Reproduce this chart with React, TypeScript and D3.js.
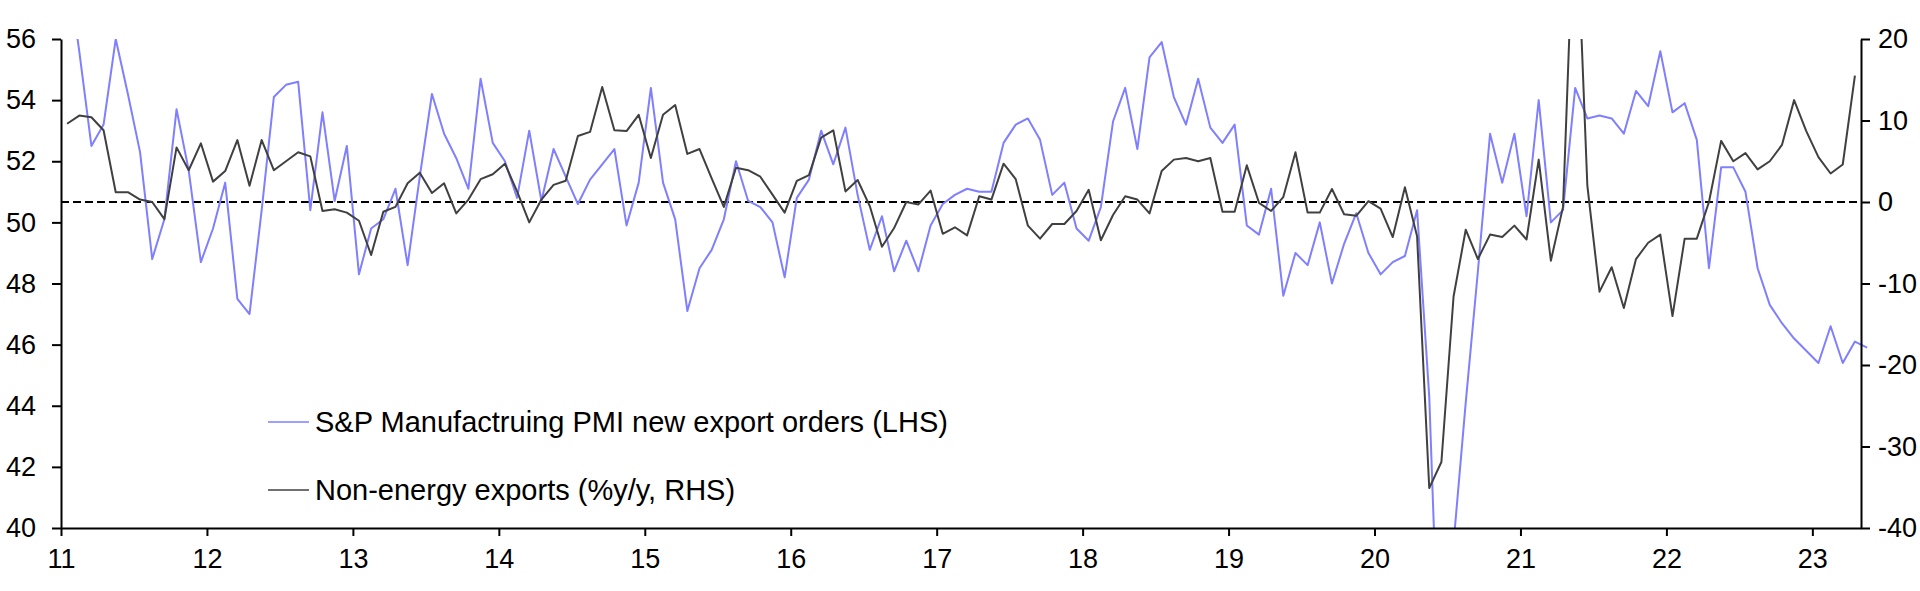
import React, { useEffect, useRef } from 'react';
import * as d3 from 'd3';

// monthly, from Jan 2011
const START_YEAR = 2011;

const pmiExportOrders = [
  58.5, 55.6, 52.5, 53.2, 56.0, 54.2, 52.3, 48.8, 50.1, 53.7, 51.7, 48.7,
  49.8, 51.3, 47.5, 47.0, 50.4, 54.1, 54.5, 54.6, 50.4, 53.6, 50.7, 52.5,
  48.3, 49.8, 50.1, 51.1, 48.6, 51.5, 54.2, 52.9, 52.1, 51.1, 54.7, 52.6,
  52.0, 50.8, 53.0, 50.7, 52.4, 51.5, 50.6, 51.4, 51.9, 52.4, 49.9, 51.3,
  54.4, 51.3, 50.1, 47.1, 48.5, 49.1, 50.1, 52.0, 50.7, 50.5, 50.0, 48.2,
  50.8, 51.4, 53.0, 51.9, 53.1, 50.9, 49.1, 50.2, 48.4, 49.4, 48.4, 49.9,
  50.6, 50.9, 51.1, 51.0, 51.0, 52.6, 53.2, 53.4, 52.7, 50.9, 51.3, 49.8,
  49.4, 50.5, 53.3, 54.4, 52.4, 55.4, 55.9, 54.1, 53.2, 54.7, 53.1, 52.6,
  53.2, 49.9, 49.6, 51.1, 47.6, 49.0, 48.6, 50.0, 48.0, 49.3, 50.3, 49.0,
  48.3, 48.7, 48.9, 50.4, 44.3, 33.0, 39.5, 44.1, 48.4, 52.9, 51.3, 52.9,
  50.2, 54.0, 50.0, 50.4, 54.4, 53.4, 53.5, 53.4, 52.9, 54.3, 53.8, 55.6,
  53.6, 53.9, 52.7, 48.5, 51.8, 51.8, 51.0, 48.5, 47.3, 46.7, 46.2, 45.8,
  45.4, 46.6, 45.4, 46.1, 45.9,
];

const nonEnergyExports = [
  9.6, 10.6, 10.4, 8.8, 1.2, 1.2, 0.3, 0.0, -2.1, 6.7, 3.9, 7.2,
  2.5, 3.8, 7.6, 2.0, 7.6, 3.9, 5.0, 6.1, 5.6, -1.1, -0.9, -1.3,
  -2.3, -6.5, -1.2, -0.6, 2.3, 3.6, 1.1, 2.3, -1.4, 0.3, 2.8, 3.4,
  4.7, 1.3, -2.5, 0.3, 2.1, 2.6, 8.1, 8.6, 14.1, 8.8, 8.7, 10.7,
  5.4, 10.7, 11.9, 5.9, 6.5, 2.9, -0.6, 4.2, 3.9, 3.1, 0.9, -1.3,
  2.6, 3.3, 7.9, 8.8, 1.3, 2.7, -0.5, -5.5, -3.2, 0.0, -0.3, 1.4,
  -3.9, -3.1, -4.1, 0.7, 0.3, 4.7, 2.8, -2.9, -4.5, -2.7, -2.7, -1.1,
  1.5, -4.7, -1.6, 0.7, 0.3, -1.4, 3.8, 5.2, 5.4, 5.0, 5.4, -1.2,
  -1.2, 4.5, -0.1, -1.1, 0.6, 6.1, -1.3, -1.3, 1.6, -1.5, -1.7, 0.1,
  -0.8, -4.3, 1.8, -4.2, -35.1, -31.9, -11.6, -3.4, -7.0, -4.0, -4.3, -2.9,
  -4.6, 5.2, -7.2, -0.6, 40.0, 2.0, -11.0, -8.0, -13.0, -7.0, -5.0, -4.0,
  -14.0, -4.5, -4.5, 0.0, 7.5, 5.0, 6.0, 4.0, 5.0, 7.0, 12.5, 8.7,
  5.5, 3.5, 4.6, 15.5,
];

const yearTicks = d3.range(2011, 2024);
const leftTicks = [40, 42, 44, 46, 48, 50, 52, 54, 56];
const rightTicks = [-40, -30, -20, -10, 0, 10, 20];

const legendLabels = [
  'S&P Manufactruing PMI new export orders (LHS)',
  'Non-energy exports (%y/y, RHS)',
];

const BLUE = '#7f7fff';
const DARK = '#404040';
const FONT = '"Liberation Sans", Arial, sans-serif';

const W = 1920;
const H = 591;
const margin = { top: 39, right: 59, bottom: 63, left: 61 };

const monthDate = (i: number) => START_YEAR + (i + 0.5) / 12;

const App: React.FC = () => {
  const svgRef = useRef<SVGSVGElement>(null);

  useEffect(() => {
    if (!svgRef.current) return;
    const svg = d3.select(svgRef.current);
    svg.selectAll('*').remove();

    const x = d3.scaleLinear()
      .domain([2011, 2023 + 4 / 12])
      .range([margin.left, W - margin.right]);
    const yL = d3.scaleLinear().domain([40, 56]).range([H - margin.bottom, margin.top]);
    const yR = d3.scaleLinear().domain([-40, 20]).range([H - margin.bottom, margin.top]);

    // only the top and bottom clip; the last month runs just past the right axis
    svg.append('defs').append('clipPath').attr('id', 'plot-clip')
      .append('rect')
      .attr('x', margin.left)
      .attr('y', margin.top)
      .attr('width', W - margin.left)
      .attr('height', H - margin.top - margin.bottom);

    // zero line of the RHS
    svg.append('line')
      .attr('x1', margin.left)
      .attr('x2', W - margin.right)
      .attr('y1', yR(0))
      .attr('y2', yR(0))
      .attr('stroke', '#000')
      .attr('stroke-width', 2)
      .attr('stroke-dasharray', '8,4');

    const lines = svg.append('g').attr('clip-path', 'url(#plot-clip)');

    const blueLine = d3.line<number>()
      .x((_, i) => x(monthDate(i)))
      .y(d => yL(d));
    const darkLine = d3.line<number>()
      .x((_, i) => x(monthDate(i)))
      .y(d => yR(d));

    lines.append('path')
      .datum(pmiExportOrders)
      .attr('fill', 'none')
      .attr('stroke', BLUE)
      .attr('stroke-width', 2)
      .attr('stroke-linejoin', 'round')
      .attr('d', blueLine);

    lines.append('path')
      .datum(nonEnergyExports)
      .attr('fill', 'none')
      .attr('stroke', DARK)
      .attr('stroke-width', 2)
      .attr('stroke-linejoin', 'round')
      .attr('d', darkLine);

    const styleAxis = (g: d3.Selection<SVGGElement, unknown, null, undefined>) => {
      g.select('.domain').attr('stroke', '#000').attr('stroke-width', 2);
      g.selectAll('.tick line').attr('stroke', '#000').attr('stroke-width', 2);
      g.selectAll('.tick text')
        .attr('fill', '#000')
        .style('font-family', FONT)
        .style('font-size', '27px');
    };

    svg.append('g')
      .attr('transform', `translate(0,${H - margin.bottom})`)
      .call(d3.axisBottom(x).tickValues(yearTicks).tickSize(8).tickPadding(13).tickSizeOuter(0)
        .tickFormat(d => String((d as number) % 100)))
      .call(styleAxis);

    svg.append('g')
      .attr('transform', `translate(${margin.left},0)`)
      .call(d3.axisLeft(yL).tickValues(leftTicks).tickSize(9).tickPadding(16).tickSizeOuter(0)
        .tickFormat(d => String(d)))
      .call(styleAxis);

    svg.append('g')
      .attr('transform', `translate(${W - margin.right},0)`)
      .call(d3.axisRight(yR).tickValues(rightTicks).tickSize(9).tickPadding(8).tickSizeOuter(0)
        .tickFormat(d => String(d)))
      .call(styleAxis);

    const legend = svg.append('g');
    legendLabels.forEach((label, i) => {
      const ly = 422 + i * 68;
      legend.append('line')
        .attr('x1', 268).attr('x2', 309)
        .attr('y1', ly).attr('y2', ly)
        .attr('stroke', i === 0 ? BLUE : DARK)
        .attr('stroke-width', 1.5);
      legend.append('text')
        .attr('x', 315)
        .attr('y', ly)
        .attr('dy', '0.35em')
        .attr('fill', '#000')
        .style('font-family', FONT)
        .style('font-size', '29px')
        .text(label);
    });
  }, []);

  return (
    <svg
      ref={svgRef}
      width={W}
      height={H}
      style={{ position: 'absolute', left: 0, top: 0, background: '#fff' }}
    />
  );
};

export default App;
